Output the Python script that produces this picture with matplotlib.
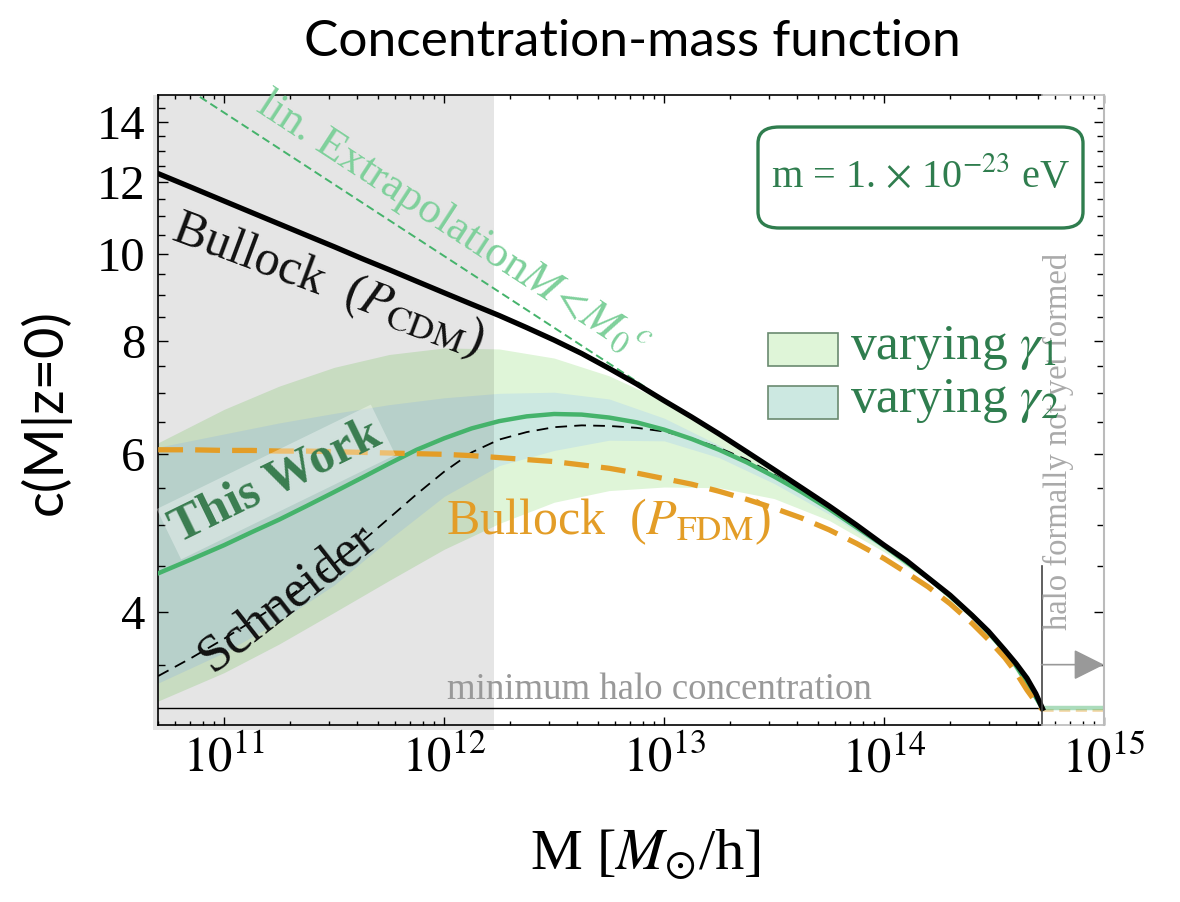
import numpy as np
import matplotlib
matplotlib.use('Agg')
import matplotlib.pyplot as plt
from matplotlib.patches import Rectangle, FancyBboxPatch
from matplotlib.ticker import FixedLocator, NullFormatter, FixedFormatter

# ---------------- data ----------------
# curves (log10 of halo mass in M_sun/h)
logM = [10.7, 10.85, 11.0, 11.125, 11.25, 11.375, 11.5, 11.625, 11.75, 11.875,
        12.0, 12.125, 12.25, 12.375, 12.5, 12.625, 12.75, 12.875, 13.0, 13.125,
        13.25, 13.375, 13.5, 13.625, 13.75, 13.875, 14.0, 14.1, 14.2, 14.3,
        14.4, 14.475, 14.55, 14.6, 14.65, 14.69, 14.72]
c_bullock_cdm = [12.27, 11.85, 11.44, 11.11, 10.79, 10.48, 10.18, 9.88, 9.60, 9.32,
                 9.05, 8.79, 8.54, 8.28, 8.02, 7.75, 7.46, 7.17, 6.87, 6.59,
                 6.31, 6.03, 5.76, 5.50, 5.25, 5.00, 4.75, 4.57, 4.37, 4.18,
                 3.97, 3.81, 3.63, 3.51, 3.38, 3.25, 3.13]
c_this_work = [4.42, 4.58, 4.75, 4.91, 5.07, 5.25, 5.44, 5.64, 5.85, 6.06,
               6.24, 6.40, 6.52, 6.60, 6.64, 6.63, 6.58, 6.50, 6.38, 6.23,
               6.06, 5.87, 5.66, 5.44, 5.21, 4.97, 4.74, 4.55, 4.37, 4.17,
               3.97, 3.80, 3.62, 3.49, 3.34, 3.22, 3.13]
c_bullock_fdm = [6.06, 6.06, 6.05, 6.05, 6.04, 6.04, 6.03, 6.02, 6.01, 6.00,
                 5.99, 5.97, 5.94, 5.91, 5.88, 5.83, 5.78, 5.71, 5.63, 5.55,
                 5.45, 5.34, 5.22, 5.09, 4.94, 4.77, 4.59, 4.43, 4.27, 4.09,
                 3.89, 3.73, 3.56, 3.43, 3.28, 3.18, 3.12]
c_schneider = [3.40, 3.56, 3.74, 3.91, 4.09, 4.30, 4.53, 4.79, 5.09, 5.41,
               5.73, 6.02, 6.22, 6.34, 6.42, 6.45, 6.44, 6.41, 6.35, 6.24,
               6.09, 5.91, 5.69, 5.46, 5.23, 4.98, 4.74, 4.55, 4.36, 4.17,
               3.96, 3.80, 3.62, 3.49, 3.35, 3.22, 3.13]

# bands
logM_band = [10.7, 11.0, 11.25, 11.5, 11.75, 12.0, 12.25, 12.5, 12.75, 13.0,
             13.25, 13.5, 13.75, 14.0, 14.2, 14.4, 14.55, 14.65, 14.72]
gamma1_hi = [6.17, 6.72, 7.13, 7.48, 7.73, 7.86, 7.84, 7.66, 7.32, 6.86,
             6.30, 5.75, 5.24, 4.74, 4.36, 3.96, 3.62, 3.37, 3.13]
gamma1_lo = [3.19, 3.43, 3.69, 4.00, 4.34, 4.70, 5.02, 5.30, 5.46, 5.51,
             5.50, 5.35, 5.06, 4.67, 4.34, 3.93, 3.59, 3.30, 3.13]
gamma2_hi = [6.10, 6.31, 6.49, 6.65, 6.80, 6.92, 7.00, 7.02, 6.90, 6.57,
             6.13, 5.67, 5.23, 4.75, 4.38, 3.98, 3.62, 3.35, 3.13]
gamma2_lo = [3.34, 3.61, 3.91, 4.29, 4.82, 5.38, 5.82, 6.05, 6.21, 6.20,
             5.94, 5.56, 5.14, 4.70, 4.35, 3.94, 3.60, 3.31, 3.13]

# linear extrapolation (straight part); above M0 it follows the CDM curve
lin_logM = [10.7, 12.9]
lin_c = [16.0, 7.15]

c_min = 3.13            # minimum halo concentration
M_cut = 5.2e14          # halo formally not yet formed beyond this
M_shade = 1.68e12       # grey shaded region upper edge
x_min, x_max = 5e10, 1e15
y_min, y_max = 3.0, 15.0

x_major = [1e11, 1e12, 1e13, 1e14, 1e15]
x_major_labels = [r'$10^{11}$', r'$10^{12}$', r'$10^{13}$', r'$10^{14}$', r'$10^{15}$']
y_major = [4, 6, 8, 10, 12, 14]
y_major_labels = ['4', '6', '8', '10', '12', '14']

# ---------------- style ----------------
plt.rcParams['font.family'] = ['Liberation Serif', 'DejaVu Serif']
plt.rcParams['mathtext.fontset'] = 'stix'

W, H = 1180, 902
fig = plt.figure(figsize=(W / 100, H / 100), dpi=100)
ax = fig.add_axes([158 / W, 1 - 725 / H, (1104 - 158) / W, (725 - 95) / H])
ax.set_xscale('log')
ax.set_yscale('log')
ax.set_xlim(x_min, x_max)
ax.set_ylim(y_min, y_max)

def fpx(x, y):
    return (x / W, 1 - y / H)

M = 10 ** np.array(logM)
Mb = 10 ** np.array(logM_band)
GREEN = '#45b36b'
DKGREEN = '#2f7d4e'
ORANGE = '#e39d27'

# bands
ax.fill_between(Mb, gamma1_lo, gamma1_hi, color='#dff5d8', lw=0, zorder=1)
ax.fill_between(Mb, gamma2_lo, gamma2_hi, color='#cce8e1', lw=0, zorder=1.1)

# grey shaded region
ax.add_patch(Rectangle((4.75e10, -0.008), M_shade - 4.75e10, 1.008,
                       transform=ax.get_xaxis_transform(), facecolor='black',
                       alpha=0.1, lw=0, zorder=2, clip_on=False))

# minimum halo concentration
ax.plot([x_min, M_cut], [c_min, c_min], color='black', lw=1.0, zorder=3)
ax.plot([M_cut, x_max], [c_min * 0.995, c_min * 0.995], color=ORANGE, lw=2.0, alpha=0.4,
        ls=(0, (4, 2)), zorder=3)
ax.plot([M_cut, x_max], [c_min, c_min], color=GREEN, lw=3.2, alpha=0.45, zorder=3,
        solid_capstyle='butt')

# lin. extrapolation
i13 = logM.index(13.0)
i14 = logM.index(14.0)
lin_M = list(10 ** np.array(lin_logM)) + list(M[i13:i14 + 1])
lin_C = list(lin_c) + list(c_bullock_cdm[i13:i14 + 1])
ax.plot(lin_M, lin_C, color=GREEN, lw=1.4, ls=(0, (4.2, 2.2)), zorder=4)

ax.plot(M, c_schneider, color='black', lw=1.3, ls=(0, (6.5, 4.0)), zorder=5)
ax.plot(M, c_this_work, color=GREEN, lw=3.2, zorder=6)
ax.plot(M, c_bullock_fdm, color=ORANGE, lw=3.8, ls=(0, (4.7, 2.3)), zorder=6)
ax.plot(M, c_bullock_cdm, color='black', lw=3.8, zorder=7)

# not-yet-formed marker
ax.plot([M_cut, M_cut], [y_min, 4.5], color='#444444', lw=1.2, zorder=8, clip_on=False)
ax.annotate('', xy=(x_max, 3.5), xytext=(M_cut, 3.5),
            arrowprops=dict(arrowstyle='-|>', color='#999999', lw=1.2,
                            mutation_scale=48, shrinkA=0, shrinkB=0), zorder=8)

# ---------------- frame & ticks ----------------
for s in ['top', 'bottom', 'right']:
    ax.spines[s].set_visible(False)
ax.spines['left'].set_linewidth(1.2)
LGRAY = '#bbbbbb'
xt = ax.get_xaxis_transform()
ax.plot([x_min, M_cut], [0, 0], transform=xt, color='black', lw=1.2, clip_on=False, zorder=9)
ax.plot([x_min, M_cut], [1, 1], transform=xt, color='black', lw=1.2, clip_on=False, zorder=9)
ax.plot([M_cut, x_max], [0, 0], transform=xt, color=LGRAY, lw=1.2, clip_on=False, zorder=9)
ax.plot([M_cut, x_max], [1, 1], transform=xt, color=LGRAY, lw=1.2, clip_on=False, zorder=9)
ax.plot([1, 1], [0, 1], transform=ax.transAxes, color=LGRAY, lw=1.5, clip_on=False, zorder=9)

x_minor = [m * 10 ** e for e in range(10, 15) for m in range(2, 10)
           if x_min <= m * 10 ** e <= x_max]
y_minor = [v / 2 for v in range(7, 30) if (v / 2) not in y_major]

ax.xaxis.set_major_locator(FixedLocator(x_major))
ax.xaxis.set_major_formatter(FixedFormatter(x_major_labels))
ax.xaxis.set_minor_locator(FixedLocator(x_minor))
ax.xaxis.set_minor_formatter(NullFormatter())
ax.yaxis.set_major_locator(FixedLocator(y_major))
ax.yaxis.set_major_formatter(FixedFormatter(y_major_labels))
ax.yaxis.set_minor_locator(FixedLocator(y_minor))
ax.yaxis.set_minor_formatter(NullFormatter())

ax.tick_params(axis='both', which='both', direction='in', top=True, right=True,
               width=1.0, color='black')
ax.tick_params(axis='x', which='major', length=6, pad=8, labelsize=35)
ax.tick_params(axis='x', which='minor', length=3)
ax.tick_params(axis='y', which='major', length=7, pad=9, labelsize=35)
ax.tick_params(axis='y', which='minor', length=5)

fig.canvas.draw()
for t, loc in zip(ax.xaxis.get_major_ticks(len(x_major)), x_major):
    if loc > M_cut * 1.01:
        t.tick1line.set_color(LGRAY)
        t.tick2line.set_color(LGRAY)
for t, loc in zip(ax.xaxis.get_minor_ticks(len(x_minor)), x_minor):
    if loc > M_cut * 1.01:
        t.tick1line.set_color(LGRAY)
        t.tick2line.set_color(LGRAY)
for t in ax.yaxis.get_major_ticks(len(y_major)) + ax.yaxis.get_minor_ticks(len(y_minor)):
    t.tick2line.set_color(LGRAY)

# ---------------- labels ----------------
fig.text(*fpx(632, 42), 'Concentration-mass function', family='Lato', fontsize=37,
         ha='center', va='center')
fig.text(*fpx(45, 412), 'c(M|z=0)', family='Lato', fontsize=39, rotation=90,
         ha='center', va='center')
fig.text(*fpx(645, 855), r'M [$M_{\odot}$/h]', fontsize=42, ha='center', va='center')

fig.text(*fpx(328, 285), r'Bullock  ($P_{\mathrm{CDM}}$)', fontsize=36, rotation=-20.5,
         ha='center', va='center', rotation_mode='anchor', color='#111111', zorder=10)
fig.text(*fpx(609, 522), r'Bullock  ($P_{\mathrm{FDM}}$)', fontsize=36, color=ORANGE,
         ha='center', va='center')
fig.text(*fpx(287, 597), 'Schneider', fontsize=38, rotation=38, ha='center', va='center',
         rotation_mode='anchor', color='#111111')
fig.text(*fpx(276, 482), 'This Work', fontsize=36, fontweight='bold', rotation=26,
         ha='center', va='center', rotation_mode='anchor', color='#3a7d50',
         bbox=dict(boxstyle='square,pad=0.1', facecolor='white', alpha=0.35, lw=0))
fig.text(*fpx(452, 226), r'lin. Extrapolation$M\!<\!M_0{}^c$', fontsize=32.5, rotation=-33.1,
         ha='center', va='center', rotation_mode='anchor', color='#7fd09b')
fig.text(*fpx(447, 690), 'minimum halo concentration', fontsize=26.5, color='#999999',
         ha='left', va='center')
fig.text(*fpx(1058, 441), 'halo formally not yet formed', fontsize=23.5, color='#aaaaaa',
         rotation=90, ha='center', va='center')

# mass box
box = FancyBboxPatch(fpx(758, 228), (1083 - 758) / W, (228 - 127) / H,
                     boxstyle='round,pad=0,rounding_size=0.018', transform=fig.transFigure,
                     facecolor='white', edgecolor=DKGREEN, lw=2.4, zorder=10)
fig.add_artist(box)
fig.text(*fpx(921, 177), r'm = 1. $\times$ 10$^{-23}$ eV', fontsize=29, color=DKGREEN,
         ha='center', va='center', zorder=11)

# legend
for (y0, fc, lab) in [(333, '#dff5d8', r'varying $\gamma_1$'),
                      (386, '#cce8e1', r'varying $\gamma_2$')]:
    fig.add_artist(Rectangle(fpx(768, y0 + 33), 70 / W, 33 / H, transform=fig.transFigure,
                             facecolor=fc, edgecolor='#6a8a70', lw=1.2, zorder=10))
    fig.text(*fpx(850, y0 + 15), lab, fontsize=37, color=DKGREEN, ha='left', va='center',
             zorder=11)

fig.savefig('out.png', dpi=100)
